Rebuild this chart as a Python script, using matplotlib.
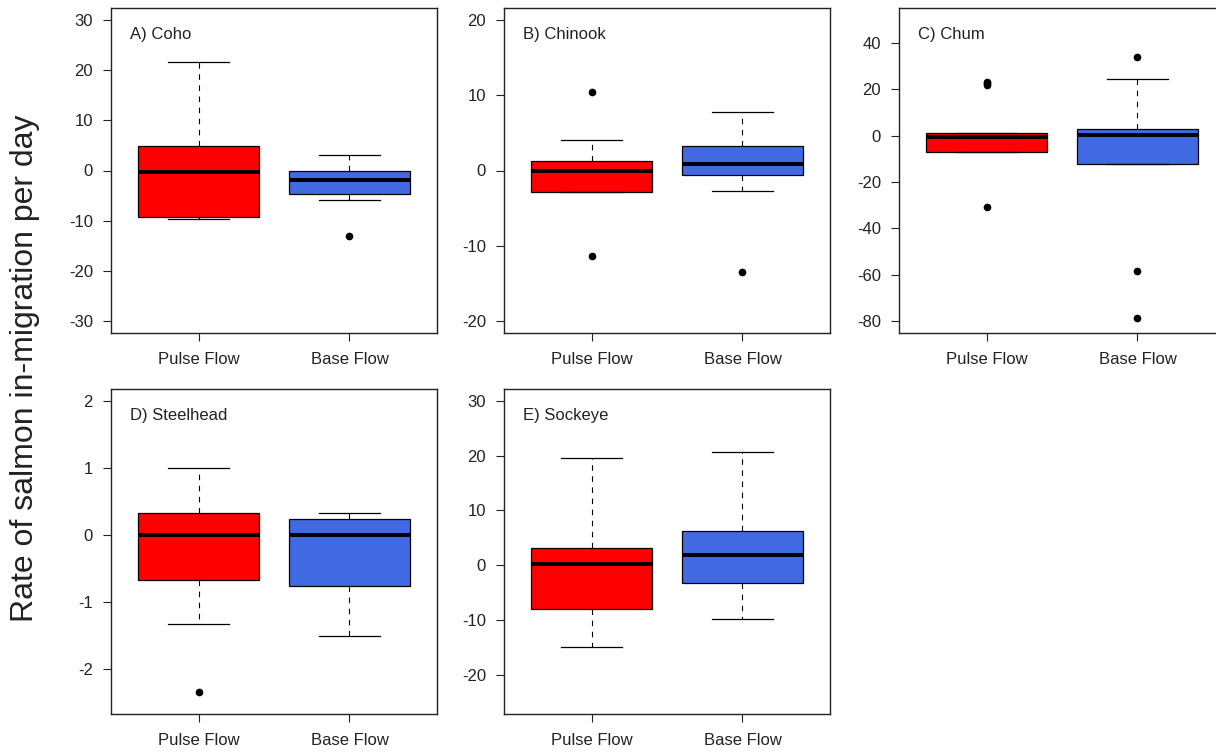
import matplotlib.pyplot as plt

plt.rcParams['font.family'] = ['Liberation Sans', 'DejaVu Sans']
plt.rcParams['axes.unicode_minus'] = False

# groups on the x axis
groups = ["Pulse Flow", "Base Flow"]
box_colors = ["#FF0000", "#4169E1"]

# box stats per species: [lower whisker, Q1, median, Q3, upper whisker]
coho_pulse = [-9.7, -9.3, -0.2, 4.9, 21.6]
coho_base = [-5.8, -4.6, -1.8, 0.0, 3.1]
coho_out = [[], [-13.0]]

chinook_pulse = [-2.9, -2.9, -0.1, 1.3, 4.1]
chinook_base = [-2.75, -0.6, 0.8, 3.3, 7.8]
chinook_out = [[10.5, -11.35], [-13.5]]

chum_pulse = [-7.2, -7.2, -0.4, 1.0, 1.0]
chum_base = [-12.1, -12.1, 0.3, 3.0, 24.7]
chum_out = [[23.4, 22.6, 21.9, -30.6], [34.2, -58.4, -78.8]]

steel_pulse = [-1.34, -0.68, 0.0, 0.33, 1.0]
steel_base = [-1.51, -0.77, 0.0, 0.24, 0.33]
steel_out = [[-2.35], []]

sock_pulse = [-14.9, -8.05, 0.25, 3.2, 19.6]
sock_base = [-9.9, -3.2, 1.9, 6.2, 20.7]
sock_out = [[], []]

titles = ["A) Coho", "B) Chinook", "C) Chum", "D) Steelhead", "E) Sockeye"]
ylims = [(-30, 30), (-20, 20), (-80, 50), (-2.5, 2), (-25, 30)]
yticks = [range(-30, 31, 10), range(-20, 21, 10), range(-80, 41, 20),
          range(-2, 3, 1), range(-20, 31, 10)]

panels = [
    (coho_pulse, coho_base, coho_out),
    (chinook_pulse, chinook_base, chinook_out),
    (chum_pulse, chum_base, chum_out),
    (steel_pulse, steel_base, steel_out),
    (sock_pulse, sock_base, sock_out),
]

fig = plt.figure(figsize=(12.16, 7.52), dpi=100)

W, H = 1216, 752
lefts = [111, 504, 899, 111, 504]
tops = [8, 8, 8, 389, 389]
aw, ah = 326, 325

for i, (pulse, base, outs) in enumerate(panels):
    ax = fig.add_axes([lefts[i] / W, (H - tops[i] - ah) / H, aw / W, ah / H])
    stats = []
    for j, s in enumerate([pulse, base]):
        stats.append({
            'whislo': s[0], 'q1': s[1], 'med': s[2], 'q3': s[3],
            'whishi': s[4], 'fliers': outs[j], 'label': groups[j]
        })
    bp = ax.bxp(stats, positions=[1, 2], widths=0.8, capwidths=0.4,
                patch_artist=True, showfliers=True,
                boxprops=dict(edgecolor='black', linewidth=0.9),
                medianprops=dict(color='black', linewidth=2.8,
                                 solid_capstyle='butt'),
                whiskerprops=dict(color='black', linewidth=0.8,
                                  linestyle=(0, (5, 5))),
                capprops=dict(color='black', linewidth=0.9),
                flierprops=dict(marker='o', markerfacecolor='black',
                                markeredgecolor='black', markersize=4.5))
    for patch, c in zip(bp['boxes'], box_colors):
        patch.set_facecolor(c)

    lo, hi = ylims[i]
    ext = (hi - lo) * 0.04
    ax.set_ylim(lo - ext, hi + ext)
    ax.set_xlim(0.42, 2.58)
    ax.set_yticks(list(yticks[i]))
    ax.set_xticks([1, 2])
    ax.set_xticklabels(groups)
    ax.tick_params(axis='both', direction='out', length=6, width=0.8,
                   labelsize=12, color='#222222', labelcolor='#222222')
    ax.tick_params(axis='y', pad=7)
    ax.tick_params(axis='x', pad=8)
    for sp in ax.spines.values():
        sp.set_linewidth(1.0)
        sp.set_color('#222222')
    ax.annotate(titles[i], xy=(0, 1), xycoords='axes fraction',
                xytext=(14, -19), textcoords='offset points',
                ha='left', va='center', fontsize=12, color='#222222')

fig.text(25 / W, 1 - 368 / H, "Rate of salmon in-migration per day",
         rotation=90, ha='center', va='center', fontsize=23, color='#222222')

fig.savefig("out.png", dpi=100)
